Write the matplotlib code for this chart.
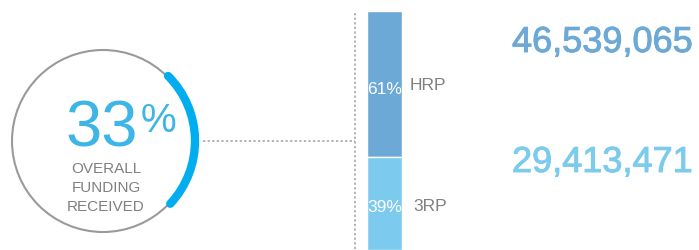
import matplotlib
matplotlib.use('Agg')
import matplotlib.pyplot as plt
import matplotlib.patheffects as pe
from matplotlib.patches import Circle, Arc

plt.rcParams['font.family'] = ['Liberation Sans', 'DejaVu Sans']

# data
overall_pct = 33
overall_label = ['OVERALL', 'FUNDING', 'RECEIVED']
plans = ['HRP', '3RP']
plan_pct = [61, 39]
plan_amount = ['46,539,065', '29,413,471']
plan_colors = ['#6da9d7', '#7ccbee']

fig = plt.figure(figsize=(6.99, 2.51), dpi=100)

# stacked bar
bx = fig.add_axes([367 / 699, 0, 35 / 699, (251 - 12) / 251])
bx.set_xlim(-0.5, 0.5)
bx.set_ylim(0, 100)
bx.axis('off')
bottom = 100
for name, pct, col in zip(plans, plan_pct, plan_colors):
    bottom -= pct
    bx.bar(0, pct, bottom=bottom, width=1, color=col, edgecolor='white', lw=1)

# pixel-space axes covering the whole figure, on top of the bar
ax = fig.add_axes([0, 0, 1, 1])
ax.set_xlim(0, 699)
ax.set_ylim(251, 0)
ax.axis('off')
ax.set_zorder(2)

# gauge circle
cx, cy, r = 103, 142, 91
ax.add_patch(Circle((cx, cy), r, fill=False, ec='#9a9a9a', lw=1.5))
arc = Arc((cx, cy), 2 * r + 2, 2 * r + 2, theta1=-45, theta2=43,
          color='#00aeef', lw=6)
arc.set_capstyle('round')
ax.add_patch(arc)

ax.text(66, 147, str(overall_pct), fontsize=47, color='#3db5e6',
        ha='left', va='baseline')
ax.text(141, 132, '%', fontsize=29, color='#3db5e6', ha='left', va='baseline')
for i, line in enumerate(overall_label):
    ax.text(106, 173 + 19 * i, line, fontsize=11, color='#808080',
            ha='center', va='baseline')

# dotted connector
ax.plot([203, 355], [142, 142], color='#a0a0a0', lw=1.1, ls=(0, (1.5, 1.5)))
ax.plot([355, 355], [14, 251], color='#a0a0a0', lw=1.1, ls=(0, (1.5, 1.5)))

# labels on bar
label_y = [94, 212]
name_y = [90, 211]
name_x = [410, 413]
amount_y = [53, 173]
for i in range(len(plans)):
    ax.text(384.5, label_y[i], f'{plan_pct[i]}%', fontsize=12.5, color='white',
            ha='center', va='baseline')
    ax.text(name_x[i], name_y[i], plans[i], fontsize=12.5, color='#808080',
            ha='left', va='baseline')
    ax.text(512, amount_y[i], plan_amount[i], fontsize=26, color=plan_colors[i],
            ha='left', va='baseline',
            path_effects=[pe.withStroke(linewidth=0.7, foreground=plan_colors[i])])

fig.savefig('out.png', dpi=100)
